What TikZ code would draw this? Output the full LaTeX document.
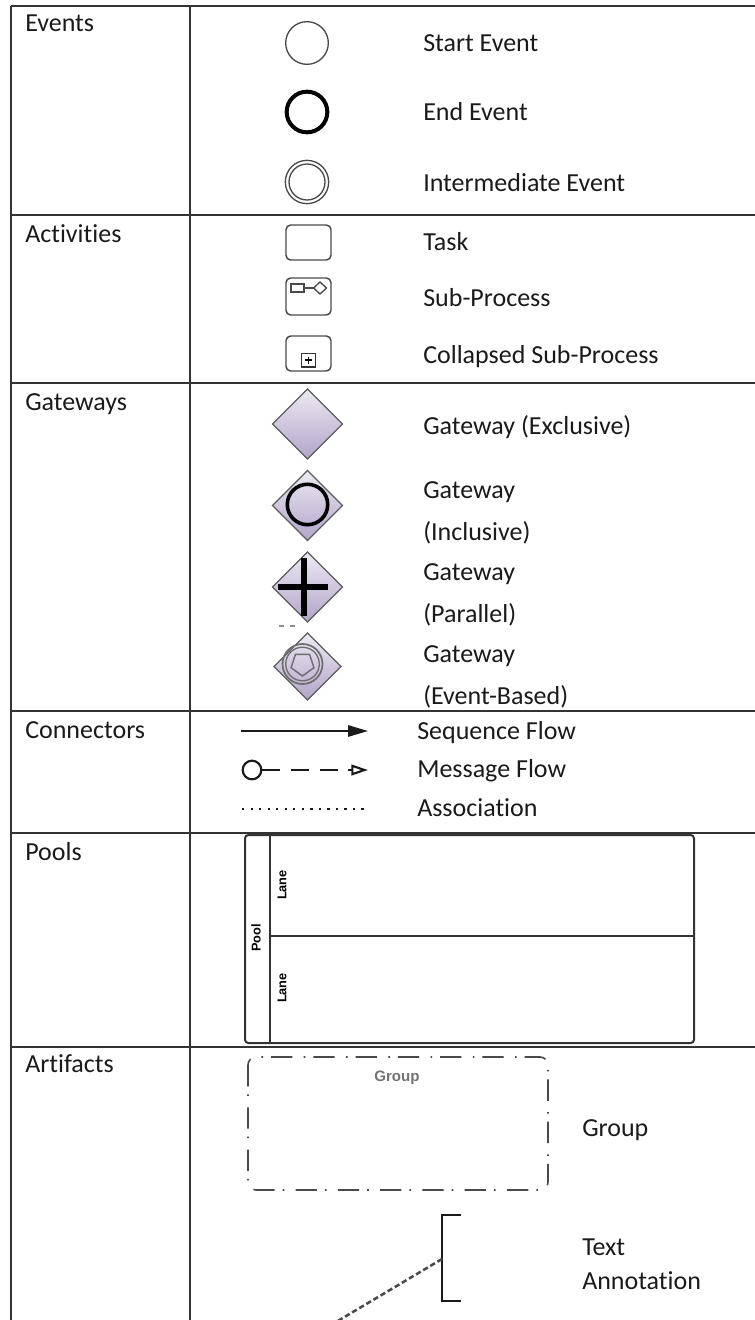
\documentclass[tikz,border=0pt]{standalone}
\usepackage{fontspec}
\setmainfont{Carlito}[Ligatures={NoCommon}]
\newfontfamily\bpmnsans{Liberation Sans}
\usetikzlibrary{arrows.meta,shapes.geometric,calc}
\definecolor{rulecol}{HTML}{333333}
\definecolor{inkcol}{HTML}{1A1A1A}
\definecolor{shapecol}{HTML}{4A4A4A}
\definecolor{gwtop}{HTML}{EDE9F3}
\definecolor{gwbot}{HTML}{B2A4C9}
\definecolor{gwline}{HTML}{5C5C5C}
\definecolor{ebcol}{HTML}{6E6E6E}
\begin{document}
\begin{tikzpicture}[x=0.75pt,y=-0.75pt,
  tableline/.style={draw=rulecol,line width=1.1pt},
  catlabel/.style={anchor=base west,inner sep=0pt,text=inkcol,font=\fontsize{19.5}{23}\selectfont},
  itemlabel/.style={anchor=base west,inner sep=0pt,text=inkcol,font=\fontsize{19.5}{23}\selectfont},
  tinylabel/.style={inner sep=0pt,font=\bpmnsans\bfseries\fontsize{9.6}{11}\selectfont},
  eventshape/.style={circle,inner sep=0pt,draw=shapecol},
  taskshape/.style={rectangle,rounded corners=3.5pt,inner sep=0pt,draw=shapecol,line width=1.1pt,
    minimum width=33.75pt},
  gateshape/.style={diamond,aspect=1,inner sep=0pt,draw=gwline,line width=0.9pt,
    top color=gwtop,bottom color=gwbot},
  flowline/.style={draw=inkcol,line width=1.5pt},
]
\useasboundingbox (0,0) rectangle (755,1320);

% ---------- table grid ----------
\draw[tableline] (11,6) -- (11,1320);
\draw[tableline] (190,6) -- (190,1320);
\foreach \yy in {6,215,383,711,833,1047}
  \draw[tableline] (11,\yy) -- (755,\yy);

% ---------- category labels ----------
\node[catlabel] (cEvents)     at (25,32)   {Events};
\node[catlabel] (cActivities) at (25,242)  {Activities};
\node[catlabel] (cGateways)   at (25,410)  {Gateways};
\node[catlabel] (cConnectors) at (25,738)  {Connectors};
\node[catlabel] (cPools)      at (25,860)  {Pools};
\node[catlabel] (cArtifacts)  at (25,1072) {Artifacts};

% ---------- events ----------
\node[eventshape,line width=1pt,minimum size=32pt] (evStart) at (307,43) {};
\node[eventshape,draw=black,line width=3pt,minimum size=30.5pt] (evEnd) at (307,112) {};
\node[eventshape,line width=1pt,minimum size=32.5pt] (evMid) at (307,182) {};
\node[eventshape,line width=1pt,minimum size=27pt] (evMidIn) at (307,182) {};
\node[itemlabel] (tStart) at (423,52)  {Start Event};
\node[itemlabel] (tEnd)   at (423,120) {End Event};
\node[itemlabel] (tMid)   at (423,191) {Intermediate Event};

% ---------- activities ----------
\node[taskshape,minimum height=26.25pt] (acTask) at (308.5,242.5) {};
\node[taskshape,minimum height=27.75pt] (acSub) at (308.5,296.5) {};
\draw[shapecol,line width=1pt] (291,284) rectangle (304,292);
\draw[shapecol,line width=1pt] (304,288) -- (313.5,288);
\draw[shapecol,line width=1pt,fill=white] (313.5,288) -- (320,282) -- (326.5,288) -- (320,294) -- cycle;
\node[taskshape,minimum height=26.25pt] (acColl) at (308.5,353.5) {};
\draw[black!80,line width=1.1pt] (301.5,353.5) rectangle (315.5,367);
\draw[black,line width=1.4pt] (305,360.2) -- (312,360.2) (308.5,356.8) -- (308.5,363.6);
\node[itemlabel] (tTask) at (423,250) {Task};
\node[itemlabel] (tSub)  at (423,306) {Sub-Process};
\node[itemlabel] (tColl) at (423,363) {Collapsed Sub-Process};

% ---------- gateways ----------
\node[gateshape,minimum width=53pt,minimum height=53pt] (gwExc) at (307.5,424) {};
\node[gateshape,minimum width=53pt,minimum height=53pt] (gwInc) at (307.5,505.5) {};
\draw[black,line width=2.7pt] (307.5,504.5) circle (20.2);
\node[gateshape,minimum width=53pt,minimum height=53pt] (gwPar) at (307.5,587) {};
\draw[black,line width=4.6pt] (278,587) -- (328,587) (304,558) -- (304,616);
\draw[black!45,line width=0.8pt,dash pattern=on 4pt off 4pt] (279,626) -- (300,626);
\node[gateshape,minimum width=50.5pt,minimum height=50.5pt] (gwEvt) at (307.5,666.5) {};
\draw[ebcol,line width=1.3pt] (302.5,664) circle (20);
\draw[ebcol,line width=1pt] (302.5,664) circle (16.8);
\draw[ebcol,line width=1.1pt] (302.5,664) ++(90:12) -- ++(-36:12*1.1756) -- ++(-108:12*1.1756)
  -- ++(-180:12*1.1756) -- ++(108:12*1.1756) -- cycle;
\node[itemlabel] (tExc)  at (423,434) {Gateway (Exclusive)};
\node[itemlabel] (tInc)  at (423,498) {Gateway};
\node[itemlabel] (tInc2) at (423,540) {(Inclusive)};
\node[itemlabel] (tPar)  at (423,580) {Gateway};
\node[itemlabel] (tPar2) at (423,622) {(Parallel)};
\node[itemlabel] (tEvt)  at (423,662) {Gateway};
\node[itemlabel] (tEvt2) at (423,704) {(Event-Based)};

% ---------- connectors ----------
\coordinate (sqA) at (241,731);
\coordinate (sqB) at (368,731);
\draw[flowline,-{Triangle[length=15pt,width=8.5pt]}] (sqA) -- (sqB);
\node[circle,draw=inkcol,line width=1.6pt,inner sep=0pt,minimum size=14pt] (msA) at (252,770) {};
\coordinate (msB) at (368,770);
\draw[flowline,line width=1.7pt,dash pattern=on 13.5pt off 8pt,
  -{Triangle[open,length=12.5pt,width=8pt,line width=1.6pt]}] (msA.east) -- (msB);
\coordinate (asA) at (242,809);
\coordinate (asB) at (368,809);
\draw[draw=inkcol,line width=1.7pt,dash pattern=on 1.7pt off 4.7pt] (asA) -- (asB);
\node[itemlabel] (tSeq) at (417,739) {Sequence Flow};
\node[itemlabel] (tMsg) at (417,777) {Message Flow};
\node[itemlabel] (tAsc) at (417,816) {Association};

% ---------- pools ----------
\draw[draw=rulecol,line width=1.5pt,rounded corners=2.5pt] (245,835) rectangle (694,1043);
\draw[draw=rulecol,line width=1.5pt] (270,835) -- (270,1043);
\draw[draw=rulecol,line width=1.5pt] (270,936) -- (694,936);
\node[tinylabel,rotate=90] (tPool)  at (256,938) {Pool};
\node[tinylabel,rotate=90] (tLane1) at (282,885) {Lane};
\node[tinylabel,rotate=90] (tLane2) at (282,988) {Lane};

% ---------- artifacts ----------
\draw[draw=shapecol,line width=1.2pt,rounded corners=6pt,
  dash pattern=on 16pt off 6pt on 1.2pt off 8.5pt] (248,1057) rectangle (548,1190);
\node[inner sep=0pt,text=black!55,font=\bpmnsans\bfseries\fontsize{11.3}{13}\selectfont] (tGroupIn) at (397,1078) {Group};
\node[itemlabel] (tGroup) at (582,1136) {Group};

\coordinate (anTop) at (461,1215);
\coordinate (anBot) at (461,1301);
\draw[draw=inkcol,line width=1.5pt] (anTop) -- (442,1215) -- (442,1301) -- (anBot);
\coordinate (anHook) at (442,1259);
\coordinate (anEnd) at (336,1322);
\draw[draw=shapecol,line width=1.9pt,dash pattern=on 4pt off 2.2pt] (anHook) -- (anEnd);
\node[itemlabel] (tText) at (582,1255) {Text};
\node[itemlabel] (tAnno) at (582,1289) {Annotation};
\end{tikzpicture}
\end{document}
